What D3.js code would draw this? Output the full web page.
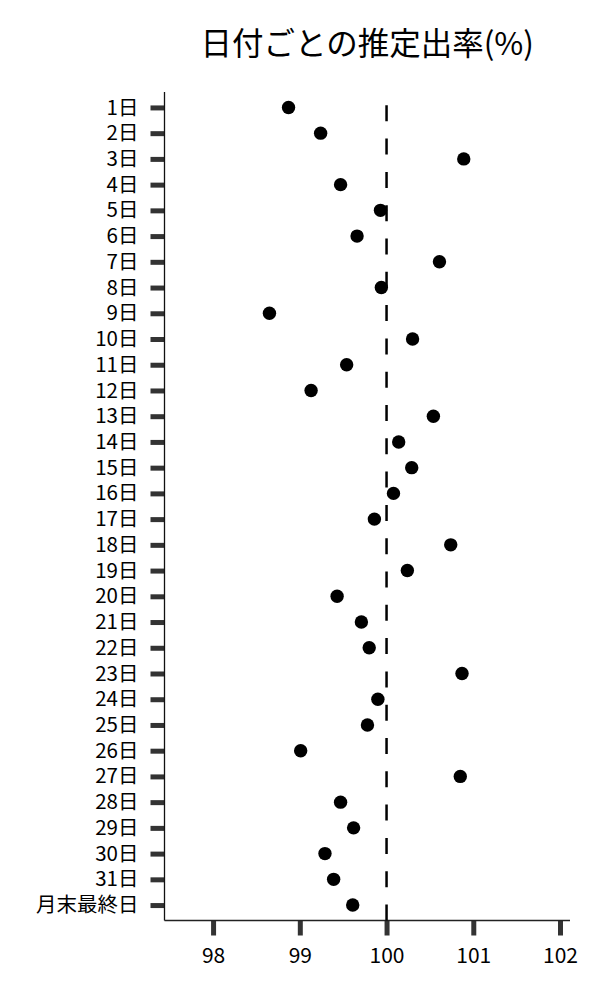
<!DOCTYPE html>
<html>
<head>
<meta charset="utf-8">
<script src="https://cdn.jsdelivr.net/npm/d3@7"></script>
<style>
  html, body { margin: 0; padding: 0; background: #fff; }
  text { font-family: "Noto Sans CJK JP", "Noto Sans", sans-serif; fill: #000; }
</style>
</head>
<body>
<svg id="chart" width="600" height="1000"></svg>
<script>
const title = "日付ごとの推定出率(%)";
const categories = ["1日","2日","3日","4日","5日","6日","7日","8日","9日","10日",
  "11日","12日","13日","14日","15日","16日","17日","18日","19日","20日",
  "21日","22日","23日","24日","25日","26日","27日","28日","29日","30日",
  "31日","月末最終日"];
const values = [98.87, 99.24, 100.89, 99.47, 99.93, 99.66, 100.61, 99.94, 98.65, 100.30,
  99.54, 99.13, 100.54, 100.14, 100.29, 100.08, 99.86, 100.74, 100.24, 99.43,
  99.71, 99.80, 100.87, 99.90, 99.78, 99.01, 100.85, 99.47, 99.62, 99.29,
  99.39, 99.61];
const xTicks = [98, 99, 100, 101, 102];
const refValue = 100;

const svg = d3.select("#chart");
const mLeft = 164.5, mRight = 570, mTop = 92, mBottom = 920.5;

const x = d3.scaleLinear().domain([97.44, 102.115]).range([mLeft, mRight]);
const y = d3.scalePoint().domain(categories).range([mTop, mBottom]).padding(0.6);

// title
svg.append("text")
  .attr("x", (mLeft + mRight) / 2)
  .attr("y", 55)
  .attr("text-anchor", "middle")
  .style("font-size", "31.5px")
  .text(title);

// y axis
const yAxis = svg.append("g")
  .attr("transform", `translate(${mLeft},0)`)
  .call(d3.axisLeft(y).tickSize(14).tickPadding(12));
yAxis.select(".domain").remove();
yAxis.selectAll(".tick line").attr("stroke", "#333").attr("stroke-width", 5);
yAxis.selectAll(".tick text")
  .style("font-size", "20.5px")
  .style("font-family", '"Noto Sans CJK JP", sans-serif')
  .attr("fill", "#000");
svg.append("line")
  .attr("x1", mLeft).attr("x2", mLeft)
  .attr("y1", mTop).attr("y2", mBottom)
  .attr("stroke", "#111").attr("stroke-width", 1.3);

// x axis
const xAxis = svg.append("g")
  .attr("transform", `translate(0,${mBottom})`)
  .call(d3.axisBottom(x).tickValues(xTicks).tickFormat(d3.format("d")).tickSize(15).tickPadding(13));
xAxis.select(".domain").remove();
xAxis.selectAll(".tick line").attr("stroke", "#333").attr("stroke-width", 5);
xAxis.selectAll(".tick text")
  .style("font-size", "21px")
  .style("font-family", '"Noto Sans CJK JP", sans-serif')
  .attr("fill", "#000");
svg.append("line")
  .attr("x1", mLeft).attr("x2", mRight)
  .attr("y1", mBottom).attr("y2", mBottom)
  .attr("stroke", "#222").attr("stroke-width", 1.3);

// reference dashed line (drawn bottom-up)
svg.append("line")
  .attr("x1", x(refValue)).attr("x2", x(refValue))
  .attr("y1", mBottom).attr("y2", mTop)
  .attr("stroke", "#000").attr("stroke-width", 2.5)
  .attr("stroke-dasharray", "16,17.3");

// points
svg.append("g").selectAll("circle")
  .data(categories.map((c, i) => ({ c, v: values[i] })))
  .join("circle")
  .attr("cx", d => x(d.v))
  .attr("cy", d => y(d.c))
  .attr("r", 6.7)
  .attr("fill", "#000");
</script>
</body>
</html>
